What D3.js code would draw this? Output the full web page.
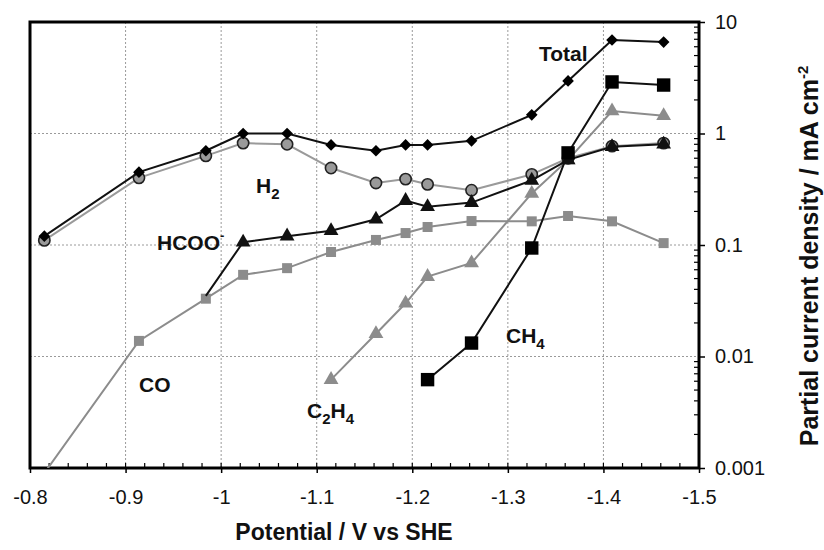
<!DOCTYPE html>
<html>
<head>
<meta charset="utf-8">
<script src="https://cdn.jsdelivr.net/npm/d3@7"></script>
<style>
  html, body { margin: 0; padding: 0; background: #fff; }
  svg { display: block; font-family: "Liberation Sans", Arial, Helvetica, sans-serif; }
</style>
</head>
<body>
<svg id="chart" width="824" height="550"></svg>
<script>
// ---- data ----
const potential = [-0.815, -0.914, -0.984, -1.023, -1.069, -1.115, -1.162, -1.193, -1.216, -1.262, -1.325, -1.363, -1.409, -1.463];
const total = [0.12, 0.45, 0.70, 1.0, 1.0, 0.79, 0.70, 0.79, 0.79, 0.86, 1.47, 2.96, 6.9, 6.6];
const h2    = [0.11, 0.40, 0.63, 0.82, 0.80, 0.49, 0.36, 0.39, 0.35, 0.31, 0.43, 0.60, 0.77, 0.82];
const hcoo  = [null, null, 0.035, 0.106, 0.12, 0.134, 0.17, 0.25, 0.22, 0.24, 0.38, 0.58, 0.76, 0.80];
const co    = [0.0009, 0.0138, 0.033, 0.054, 0.062, 0.0865, 0.111, 0.128, 0.145, 0.164, 0.163, 0.182, 0.163, 0.104];
const c2h4  = [null, null, null, null, null, 0.0062, 0.016, 0.030, 0.052, 0.069, 0.29, 0.58, 1.59, 1.44];
const ch4   = [null, null, null, null, null, null, null, null, 0.0062, 0.0132, 0.094, 0.67, 2.9, 2.72];

const xTicks = [-0.8, -0.9, -1.0, -1.1, -1.2, -1.3, -1.4, -1.5];
const xTickLabels = ["-0.8", "-0.9", "-1", "-1.1", "-1.2", "-1.3", "-1.4", "-1.5"];
const yTicks = [0.001, 0.01, 0.1, 1, 10];
const yTickLabels = ["0.001", "0.01", "0.1", "1", "10"];

// ---- layout ----
const L = 30, R = 699, T = 22, B = 468;
const svg = d3.select("#chart");
const x = d3.scaleLinear().domain([-0.8, -1.5]).range([L, R]);
const y = d3.scaleLog().domain([0.001, 10]).range([B, T]);

svg.append("defs").append("clipPath").attr("id", "clip")
  .append("rect").attr("x", L).attr("y", T).attr("width", R - L).attr("height", B - T);

// grid
const grid = svg.append("g");
grid.selectAll("line.vx").data(xTicks.slice(1, -1)).join("line")
  .attr("x1", d => x(d)).attr("x2", d => x(d)).attr("y1", T).attr("y2", B)
  .attr("stroke", "#9a9a9a").attr("stroke-width", 1).attr("stroke-dasharray", "2,2");
grid.selectAll("line.hy").data(yTicks.slice(1, -1)).join("line")
  .attr("y1", d => y(d)).attr("y2", d => y(d)).attr("x1", L).attr("x2", R)
  .attr("stroke", "#9a9a9a").attr("stroke-width", 1).attr("stroke-dasharray", "2,2");

// minor ticks bottom (inward)
const xMinor = d3.range(0, 36).map(i => -0.8 - i * 0.02).filter(v => v >= -1.5001);
svg.append("g").selectAll("line").data(xMinor).join("line")
  .attr("x1", d => x(d)).attr("x2", d => x(d)).attr("y1", B).attr("y2", B - 5)
  .attr("stroke", "#000").attr("stroke-width", 1.2);
// minor ticks right (inward)
const yMinor = [];
[0.001, 0.01, 0.1, 1].forEach(dec => { for (let k = 2; k <= 9; k++) yMinor.push(dec * k); });
svg.append("g").selectAll("line").data(yMinor).join("line")
  .attr("y1", d => y(d)).attr("y2", d => y(d)).attr("x1", R).attr("x2", R - 5)
  .attr("stroke", "#000").attr("stroke-width", 1.2);

// axes
const xAxis = svg.append("g").attr("transform", `translate(0,${B})`)
  .call(d3.axisBottom(x).tickValues(xTicks).tickFormat((d, i) => xTickLabels[i]).tickSize(5).tickPadding(17));
xAxis.select(".domain").remove();
xAxis.selectAll("text").attr("font-size", 20).attr("fill", "#111").attr("font-family", "Liberation Sans, Arial, sans-serif");
xAxis.selectAll("line").attr("stroke-width", 1.5);

const yAxis = svg.append("g").attr("transform", `translate(${R},0)`)
  .call(d3.axisRight(y).tickValues(yTicks).tickFormat((d, i) => yTickLabels[i]).tickSize(6).tickPadding(10));
yAxis.select(".domain").remove();
yAxis.selectAll("text").attr("font-size", 20).attr("fill", "#111").attr("font-family", "Liberation Sans, Arial, sans-serif");
yAxis.selectAll("line").attr("stroke-width", 1.5);

// frame
svg.append("rect").attr("x", L).attr("y", T).attr("width", R - L).attr("height", B - T)
  .attr("fill", "none").attr("stroke", "#000").attr("stroke-width", 3);

// series
const plot = svg.append("g").attr("clip-path", "url(#clip)");
const GRAY = "#8c8c8c";
function drawSeries(vals, opt) {
  const pts = potential.map((p, i) => ({ p, v: vals[i], i })).filter(d => d.v != null);
  const line = d3.line().x(d => x(d.p)).y(d => y(d.v));
  plot.append("path").datum(pts).attr("d", line)
    .attr("fill", "none").attr("stroke", opt.line).attr("stroke-width", opt.lw || 2);
  const mk = pts.filter(d => !(opt.skip || []).includes(d.i));
  plot.append("g").selectAll("path").data(mk).join("path")
    .attr("d", d3.symbol().type(opt.type).size(opt.size))
    .attr("transform", d => `translate(${x(d.p)},${y(d.v)})` + (opt.rotate ? ` rotate(${opt.rotate})` : ""))
    .attr("fill", opt.fill).attr("stroke", opt.stroke || "none").attr("stroke-width", opt.sw || 0);
}

drawSeries(co,   { line: GRAY, type: d3.symbolSquare, size: 100, fill: GRAY });
drawSeries(c2h4, { line: GRAY, type: d3.symbolTriangle, size: 95, fill: GRAY });
drawSeries(h2,   { line: "#9a9a9a", type: d3.symbolCircle, size: 100, fill: "#9a9a9a", stroke: "#222", sw: 1.6 });
drawSeries(hcoo, { line: "#111", type: d3.symbolTriangle, size: 95, fill: "#111", skip: [2] });
drawSeries(ch4,  { line: "#111", type: d3.symbolSquare, size: 180, fill: "#000" });
drawSeries(total,{ line: "#111", type: d3.symbolSquare, size: 68, fill: "#000", rotate: 45 });

// series labels
const lab = svg.append("g").attr("font-size", 21).attr("font-weight", "bold").attr("fill", "#111");
function label(xp, yp, parts) {
  const t = lab.append("text").attr("x", xp).attr("y", yp);
  parts.forEach(([s, kind]) => {
    const ts = t.append("tspan").text(s);
    if (kind === "sub") ts.attr("font-size", 15).attr("dy", 6);
    else if (kind === "sup") ts.attr("font-size", 13).attr("dy", -10);
    else if (kind === "back") ts.attr("dy", -6);
  });
}
label(539, 61, [["Total"]]);
label(256, 193, [["H"], ["2", "sub"]]);
label(157, 250, [["HCOO"], ["-", "sup"]]);
label(139, 392, [["CO"]]);
label(307, 418, [["C"], ["2", "sub"], ["H", "back"], ["4", "sub"]]);
label(506, 343, [["CH"], ["4", "sub"]]);

// axis titles
svg.append("text").attr("x", 344).attr("y", 540).attr("text-anchor", "middle")
  .attr("font-size", 23).attr("font-weight", "bold").attr("fill", "#111")
  .text("Potential / V vs SHE");
const yt = svg.append("text").attr("transform", "translate(818,256) rotate(-90)")
  .attr("text-anchor", "middle").attr("font-size", 25).attr("font-weight", "bold").attr("fill", "#111");
yt.append("tspan").text("Partial current density / mA cm");
yt.append("tspan").text("-2").attr("font-size", 15).attr("dy", -10);
</script>
</body>
</html>
